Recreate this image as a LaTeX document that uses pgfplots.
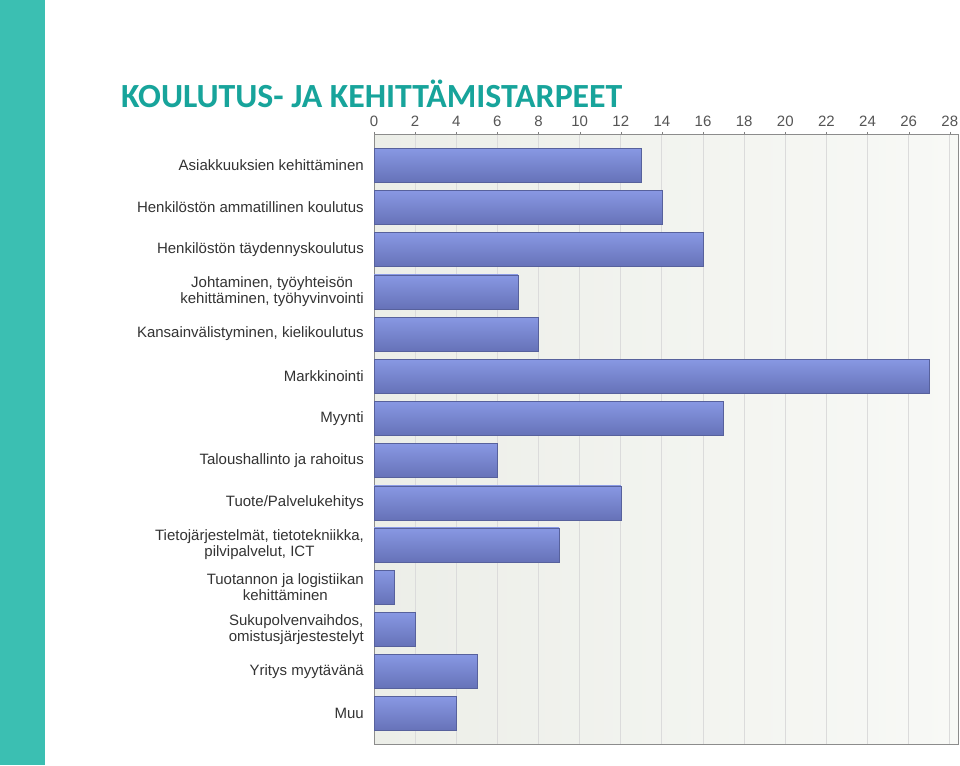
\documentclass[border=0pt]{standalone}
\usepackage{fontspec}
\setmainfont{Liberation Sans}
\newfontfamily\titlefont{Carlito}
\usepackage{pgfplots}
\pgfplotsset{compat=1.18}

\definecolor{stripe}{HTML}{3BBFB2}
\definecolor{titlec}{HTML}{17A49B}
\definecolor{barlight}{HTML}{8898E3}
\definecolor{bardark}{HTML}{6672B8}
\definecolor{bgleft}{HTML}{ECEEE8}
\definecolor{bgright}{HTML}{F8F9F6}
\definecolor{labelc}{HTML}{333333}
\definecolor{tickc}{HTML}{555555}

\pgfplotsset{onebar/.style={top color=barlight, bottom color=bardark,
  draw=bardark!85!black, line width=0.5pt, bar shift=0pt}}

\begin{document}
\begin{tikzpicture}
\path[use as bounding box, fill=white] (0,0) rectangle (960pt,765pt);
\fill[stripe] (0,0) rectangle (45pt,765pt);
\node[anchor=base west, inner sep=0pt, text=titlec, font=\titlefont\bfseries\fontsize{33.8}{36}\selectfont]
  at (121pt,657pt) {KOULUTUS- JA KEHITTÄMISTARPEET};

\begin{axis}[
    at={(374pt,21pt)}, anchor=south west,
    scale only axis,
    width=584pt, height=609pt,
    xbar,
    bar width=34pt,
    xmin=0, xmax=28.4,
    ymin=-0.72, ymax=13.72,
    y dir=reverse,
    xtick={0,2,...,28},
    xticklabel pos=upper,
    xtick pos=upper,
    ytick={0,...,13},
    yticklabels={
      {Asiakkuuksien kehittäminen},
      {Henkilöstön ammatillinen koulutus},
      {Henkilöstön täydennyskoulutus},
      {Johtaminen, työyhteisön\\kehittäminen, työhyvinvointi},
      {Kansainvälistyminen, kielikoulutus},
      {Markkinointi},
      {Myynti},
      {Taloushallinto ja rahoitus},
      {Tuote/Palvelukehitys},
      {Tietojärjestelmät, tietotekniikka,\\pilvipalvelut, ICT},
      {Tuotannon ja logistiikan\\kehittäminen},
      {Sukupolvenvaihdos,\\omistusjärjestestelyt},
      {Yritys myytävänä},
      {Muu}},
    yticklabel style={align=center, text=labelc, font=\fontsize{15}{16}\selectfont, inner sep=0pt, xshift=-7pt},
    xticklabel style={text=tickc, font=\fontsize{15}{16}\selectfont, inner sep=0pt, yshift=5pt},
    /pgf/number format/assume math mode=true,
    tick align=outside,
    major tick length=3pt,
    xtick style={color=gray},
    ytick style={draw=none},
    xmajorgrids,
    grid style={color=black!14, line width=0.8pt},
    axis line style={color=black!45, line width=1pt},
    axis background/.style={left color=bgleft, right color=bgright},
  ]
\addplot[onebar] coordinates {(13,0)};
\addplot[onebar] coordinates {(14,1)};
\addplot[onebar] coordinates {(16,2)};
\addplot[onebar] coordinates {(7,3)};
\addplot[onebar] coordinates {(8,4)};
\addplot[onebar] coordinates {(27,5)};
\addplot[onebar] coordinates {(17,6)};
\addplot[onebar] coordinates {(6,7)};
\addplot[onebar] coordinates {(12,8)};
\addplot[onebar] coordinates {(9,9)};
\addplot[onebar] coordinates {(1,10)};
\addplot[onebar] coordinates {(2,11)};
\addplot[onebar] coordinates {(5,12)};
\addplot[onebar] coordinates {(4,13)};
\end{axis}
\end{tikzpicture}
\end{document}
